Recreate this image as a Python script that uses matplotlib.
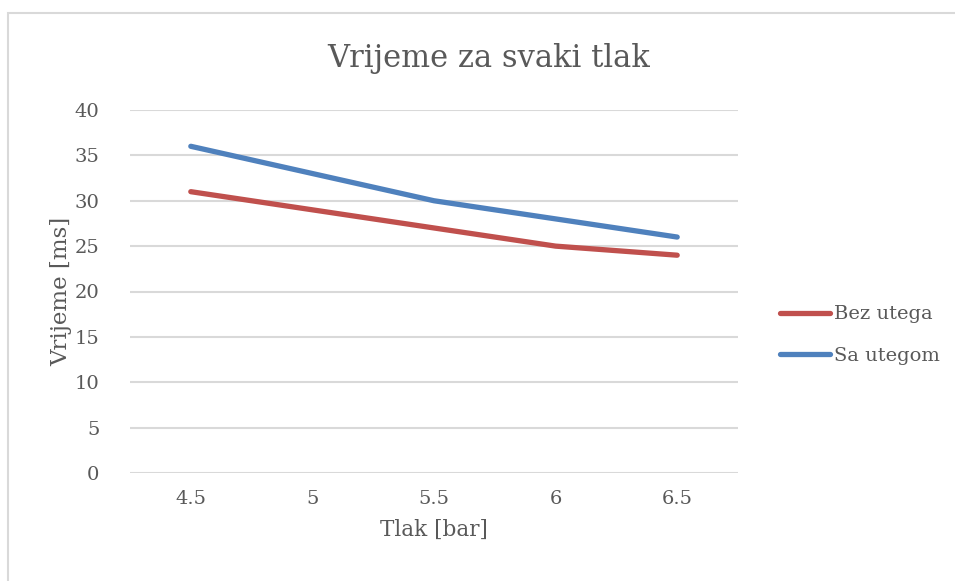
import matplotlib
matplotlib.use("Agg")
import matplotlib.pyplot as plt
from matplotlib.patches import Rectangle

# Pressure categories and measured times
tlak = ["4.5", "5", "5.5", "6", "6.5"]
bez_utega = [31, 29, 27, 25, 24]
sa_utegom = [36, 33, 30, 28, 26]
y_ticks = [0, 5, 10, 15, 20, 25, 30, 35, 40]

plt.rcParams["font.family"] = ["DejaVu Serif"]
text_col = "#595959"
grid_col = "#d9d9d9"

fig = plt.figure(figsize=(9.55, 5.81), dpi=100)
ax = fig.add_axes([130 / 955, 1 - 473 / 581, (738 - 130) / 955, (473 - 110) / 581])

# Chart border
fig.patches.append(Rectangle((8 / 955, -0.01), 1.0, 1 - 13 / 581 + 0.01,
                             transform=fig.transFigure, fill=False,
                             edgecolor=grid_col, linewidth=1.5))

x = list(range(len(tlak)))
ax.plot(x, bez_utega, color="#C0504D", linewidth=3.8, solid_capstyle="round",
        label="Bez utega")
ax.plot(x, sa_utegom, color="#4F81BD", linewidth=3.8, solid_capstyle="round",
        label="Sa utegom")

ax.set_xlim(-0.5, len(tlak) - 0.5)
ax.set_ylim(0, 40)
ax.set_xticks(x)
ax.set_xticklabels(tlak)
ax.set_yticks(y_ticks)
ax.tick_params(axis="both", length=0, labelsize=14, colors=text_col)
ax.tick_params(axis="y", pad=22)
ax.tick_params(axis="x", pad=12)
ax.yaxis.grid(True, color=grid_col, linewidth=1.5)
ax.set_axisbelow(True)
for s in ax.spines.values():
    s.set_visible(False)

ax.set_xlabel("Tlak [bar]", fontsize=15.5, color=text_col, labelpad=8)
ax.set_ylabel("Vrijeme [ms]", fontsize=16.5, color=text_col, labelpad=2)

fig.text(489 / 955, 1 - 58 / 581, "Vrijeme za svaki tlak", ha="center",
         va="center", fontsize=22, color=text_col)

leg = ax.legend(loc="center left", bbox_to_anchor=(1.0, 1 - (335 - 110) / 363),
                frameon=False, fontsize=14, handlelength=2.6, handletextpad=0.2,
                labelspacing=1.2, borderaxespad=1.75)
for t in leg.get_texts():
    t.set_color(text_col)

fig.savefig("out.png", dpi=100)
